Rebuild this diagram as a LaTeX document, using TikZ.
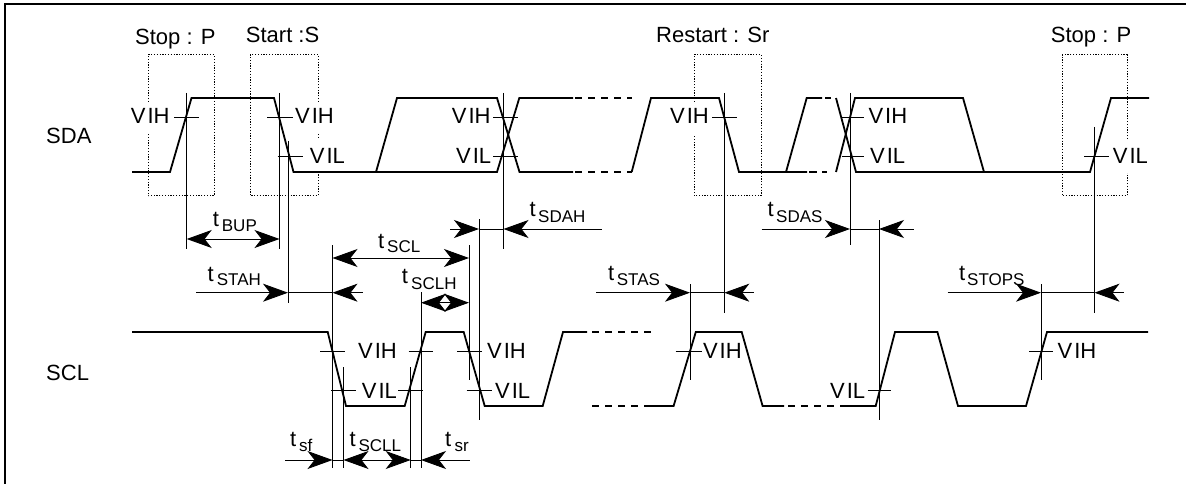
\documentclass[tikz,border=0pt]{standalone}
\usepackage{fontspec}
\setmainfont{Liberation Sans}
\usetikzlibrary{arrows.meta}
\newcommand{\VIH}{V\kern2pt IH}
\newcommand{\VIL}{V\kern2pt IL}
\tikzset{
  signal/.style={line width=1.8pt,line join=miter},
  dashsig/.style={line width=1.4pt,dash pattern=on 7pt off 6pt},
  guide/.style={line width=0.9pt},
  tick/.style={line width=0.9pt},
  dotbox/.style={line width=1pt,dash pattern=on 1.2pt off 1.6pt},
  lab/.style={anchor=base west,inner sep=0pt,font=\fontsize{22}{22}\selectfont},
  sublab/.style={anchor=base west,inner sep=0pt,font=\fontsize{17}{17}\selectfont},
  ra/.style={line width=0.9pt,-{Stealth[length=25pt,width=18pt,inset=7pt]}},
  la/.style={line width=0.9pt,{Stealth[length=25pt,width=18pt,inset=7pt]}-},
  lra/.style={line width=0.9pt,{Stealth[length=25pt,width=18pt,inset=7pt]}-{Stealth[length=25pt,width=18pt,inset=7pt]}},
}
\begin{document}
\begin{tikzpicture}[x=1pt,y=-1pt]
\useasboundingbox (0,0) rectangle (1186,484);
\fill[white] (0,0) rectangle (1186,484);
% frame
\draw[line width=1.2pt] (5,484) -- (5,4) -- (1186,4);
% dotted boxes
\draw[dotbox] (148,102) -- (148,54.7) -- (214,54.7) -- (214,195.7) -- (148,195.7) -- (148,134);
\draw[dotbox] (318,102) -- (318,54.7) -- (250,54.7) -- (250,195.7) -- (318,195.7) -- (318,172);
\draw[dotbox] (318,134) -- (318,138);
\draw[dotbox] (694,102) -- (694,54.7) -- (761,54.7) -- (761,195.7) -- (694,195.7) -- (694,135);
\draw[dotbox] (1127,139) -- (1127,54.7) -- (1062,54.7) -- (1062,195.7) -- (1127,195.7) -- (1127,173);
% SDA
\draw[signal] (132,172) -- (170,172) -- (191.5,98) -- (274,98) -- (293.5,172) -- (376,172) -- (397,98) -- (497,98) -- (519.5,172) -- (573,172);
\draw[signal] (376,172) -- (497,172) -- (519.3,98) -- (573,98);
\draw[dashsig] (575,98) -- (632,98);
\draw[dashsig] (575,172) -- (632,172);
\draw[signal] (631.7,172) -- (651,98) -- (719,98) -- (739,172) -- (807,172);
\draw[signal] (786,172) -- (806.7,98) -- (822,98);
\draw[dashsig,dash pattern=on 8pt off 5pt] (809,172) -- (827,172);
\draw[dashsig,dash pattern=on 6pt off 5pt] (825,98) -- (835,98);
\draw[signal] (836,98) -- (856,172) -- (1090,172) -- (1111,98) -- (1149,98);
\draw[signal] (836,172) -- (855,98) -- (963,98) -- (984,172);
% SCL
\draw[signal] (132,332) -- (327.7,332) -- (346,406) -- (404.7,406) -- (425.7,332) -- (463.7,332) -- (484.7,406) -- (542.7,406) -- (563,332) -- (587,332);
\draw[dashsig] (592,332) -- (655,332);
\draw[dashsig] (592,406) -- (650,406);
\draw[signal] (650,406) -- (673.6,406) -- (695.8,332) -- (741.7,332) -- (762.6,406) -- (784,406);
\draw[dashsig] (788,406) -- (846,406);
\draw[signal] (846,406) -- (875.7,406) -- (895,332) -- (937.4,332) -- (958,406) -- (1026,406) -- (1047,332) -- (1148,332);
% guides
\foreach \x/\a/\b in {186.7/93/249,279.5/93/249,288/141/302.7,503.5/93/249,479/219/420,469/245/380,332.5/245/468,343.5/367/468,410.7/367/468,421/292/468,724.3/93/313,850/93/245,879/220/420,1094.5/127/313,690/284/380,1041/284/380}
  \draw[guide] (\x,\a) -- (\x,\b);
% ticks
\foreach \a/\b/\y in {174/198.7/117,267.3/293/117,493/517.7/117,712.3/736.7/117,841.7/864/117,
  277.7/302.7/156.5,493/517.7/156.5,841.7/864/156.5,1084.3/1109.3/156.5,
  320.3/345.3/351,408.7/433/351,457/481.7/351,675.7/701.6/351,1029/1053/351,
  331/355.7/390.7,398/423/390.7,466.7/492/390.7,867.6/890.7/390.7}
  \draw[tick] (\a,\y) -- (\b,\y);
% level labels
\node[lab] (v1) at (130.7,124) {\VIH};
\node[lab] (v2) at (295,124) {\VIH};
\node[lab] (v3) at (451.7,124) {\VIH};
\node[lab] (v4) at (670,124) {\VIH};
\node[lab] (v5) at (868.3,124) {\VIH};
\node[lab] (v6) at (309.7,163.7) {\VIL};
\node[lab] (v7) at (456,163.7) {\VIL};
\node[lab] (v8) at (870,163.7) {\VIL};
\node[lab] (v9) at (1112.7,163.7) {\VIL};
\node[lab] (v10) at (358,358.3) {\VIH};
\node[lab] (v11) at (487,358.3) {\VIH};
\node[lab] (v12) at (702.8,358.3) {\VIH};
\node[lab] (v13) at (1057.5,358.3) {\VIH};
\node[lab] (v14) at (361.7,398.3) {\VIL};
\node[lab] (v15) at (495,398.3) {\VIL};
\node[lab] (v16) at (830,398.3) {\VIL};
% titles
\node[lab] (n1) at (135,44.3) {Stop : P};
\node[lab] (n2) at (245.7,42.7) {Start :S};
\node[lab] (n3) at (656,42.7) {Restart : Sr};
\node[lab] (n4) at (1050.7,42.7) {Stop : P};
\node[lab] (sda) at (46,144) {SDA};
\node[lab] (scl) at (46,380.7) {SCL};
% timing arrows
\draw[lra] (186.7,239) -- (279.5,239);
\draw[lra] (332.5,258) -- (469,258);
\draw[lra] (421,302.7) -- (469,302.7);
\draw[ra] (450,229) -- (479,229);
\draw[guide] (479,229) -- (503.5,229);
\draw[la] (503.5,229) -- (602,229);
\draw[ra] (761.7,229) -- (850,229);
\draw[guide] (850,229) -- (879,229);
\draw[la] (879,229) -- (914,229);
\draw[ra] (196,292.7) -- (288,292.7);
\draw[guide] (288,292.7) -- (332.5,292.7);
\draw[la] (332.5,292.7) -- (362.7,292.7);
\draw[ra] (596,292.7) -- (690,292.7);
\draw[guide] (690,292.7) -- (724.3,292.7);
\draw[la] (724.3,292.7) -- (753.7,292.7);
\draw[ra] (947.5,292.7) -- (1041,292.7);
\draw[guide] (1041,292.7) -- (1094.5,292.7);
\draw[la] (1094.5,292.7) -- (1123.5,292.7);
\draw[ra] (285,460) -- (332.5,460);
\draw[guide] (332.5,460) -- (343.5,460);
\draw[lra] (343.5,460) -- (410.7,460);
\draw[guide] (410.7,460) -- (421,460);
\draw[la] (421,460) -- (469.7,460);
% timing labels
\node[lab] (t1) at (212.7,226.7) {t};
\node[sublab] (s1) at (221.7,231.7) {BUP};
\node[lab] (t2) at (378,248) {t};
\node[sublab] (s2) at (387,252.7) {SCL};
\node[lab] (t3) at (207.3,281.7) {t};
\node[sublab] (s3) at (216.7,285.7) {STAH};
\node[lab] (t4) at (401.7,283.3) {t};
\node[sublab] (s4) at (411,289) {SCLH};
\node[lab] (t5) at (529.3,216.7) {t};
\node[sublab] (s5) at (538,222) {SDAH};
\node[lab] (t6) at (767.3,216.7) {t};
\node[sublab] (s6) at (776,222) {SDAS};
\node[lab] (t7) at (607.8,280.7) {t};
\node[sublab] (s7) at (616.7,285.7) {STAS};
\node[lab] (t8) at (959,280.7) {t};
\node[sublab] (s8) at (967,285.7) {STOPS};
\node[lab] (t9) at (290,446) {t};
\node[sublab] (s9) at (299,451) {sf};
\node[lab] (t10) at (349.3,446) {t};
\node[sublab] (s10) at (358.3,451) {SCLL};
\node[lab] (t11) at (445,446) {t};
\node[sublab] (s11) at (454.3,451) {sr};
\end{tikzpicture}
\end{document}
